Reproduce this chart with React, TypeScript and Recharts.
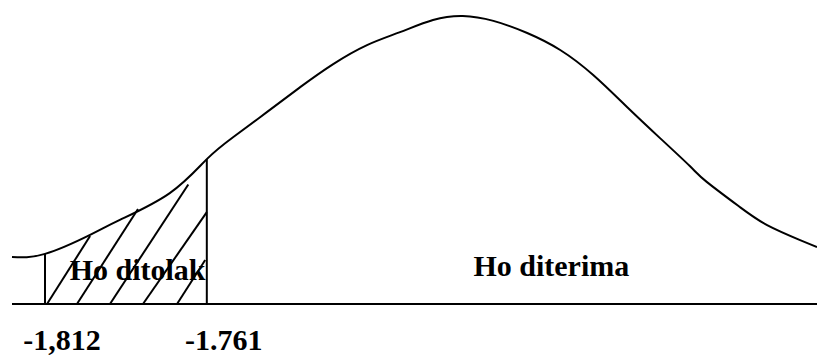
import { LineChart, Line, XAxis, YAxis, ReferenceLine, ReferenceDot } from "recharts"

// horizontal position along the axis (0 = left edge, 100 = right edge)
const posX = [0, 4.1, 9.7, 13.4, 19.6, 24.2, 27.5, 31.7, 35.8, 39.9, 44.1, 48.2, 52.3, 56.0, 59.8, 64.0, 68.1, 72.2, 76.4, 80.5, 84.2, 86.3, 90.4, 93.8, 97.9, 100]
// curve height (peak = 100)
const density = [16.3, 17.4, 24.0, 29.2, 38.5, 50.3, 58.0, 66.7, 75.3, 83.3, 89.9, 94.4, 98.6, 100, 98.3, 94.1, 88.2, 79.5, 68.4, 57.6, 47.9, 42.4, 33.7, 27.4, 22.2, 19.8]

// critical values and where they sit on the axis
const criticalLabels = ["-1,812", "-1.761"]
const criticalX = [4.1, 24.2]
const criticalTop = [17.4, 50.3]

// hatching strokes inside the rejection region
const hatchStart = [4.35, 8.07, 12.17, 16.27, 20.5]
const hatchEnd = [9.7, 15.65, 21.9, 24.2, 24.0]
const hatchTop = [23.6, 33.0, 41.5, 31.9, 15.3]

const regionLabels = ["Ho ditolak", "Ho diterima"]
const regionX = [15.6, 67.0]
const regionY = [12.2, 13.5]

const curve = posX.map((x, i) => ({ x, y: density[i] }))

const font = "Liberation Serif, Tinos, DejaVu Serif, serif"

function CriticalTick(props: any) {
  const { x, y, payload } = props
  const idx = criticalX.indexOf(payload.value)
  return (
    <text x={x + 17} y={y} dy={38} textAnchor="middle" style={{ fontFamily: font, fontSize: 30, fontWeight: 700 }} fill="#000">
      {criticalLabels[idx]}
    </text>
  )
}

export default function App() {
  return (
    <div style={{ position: "absolute", left: 0, top: 0, background: "#fff", fontFamily: font }}>
      <LineChart width={817} height={356} data={curve} margin={{ top: 16, right: 0, left: 12, bottom: 22 }}>
        <XAxis
          dataKey="x"
          type="number"
          domain={[0, 100]}
          ticks={criticalX}
          tick={<CriticalTick />}
          tickLine={false}
          axisLine={{ stroke: "#000", strokeWidth: 2 }}
          height={30}
        />
        <YAxis hide domain={[0, 100]} />
        {criticalX.map((cx, i) => (
          <ReferenceLine
            key={"crit" + i}
            segment={[{ x: cx, y: 0 }, { x: cx, y: criticalTop[i] }]}
            stroke="#000"
            strokeWidth={2}
          />
        ))}
        {hatchStart.map((hx, i) => (
          <ReferenceLine
            key={"hatch" + i}
            segment={[{ x: hx, y: 0 }, { x: hatchEnd[i], y: hatchTop[i] }]}
            stroke="#000"
            strokeWidth={2}
          />
        ))}
        {regionLabels.map((lbl, i) => (
          <ReferenceDot
            key={lbl}
            x={regionX[i]}
            y={regionY[i]}
            r={1}
            fill="none"
            stroke="none"
            label={{ value: lbl, position: "center", fontSize: 30, fill: "#000", style: { fontFamily: font, fontWeight: 700 } }}
          />
        ))}
        <Line type="natural" dataKey="y" stroke="#000" strokeWidth={2} dot={false} isAnimationActive={false} />
      </LineChart>
    </div>
  )
}
